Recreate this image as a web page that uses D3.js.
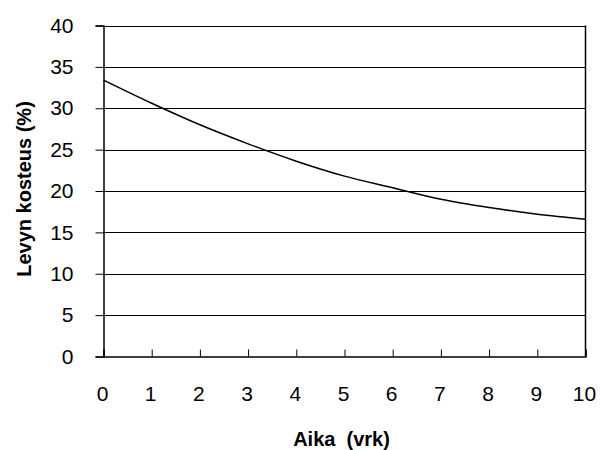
<!DOCTYPE html>
<html>
<head>
<meta charset="utf-8">
<script src="https://cdn.jsdelivr.net/npm/d3@7"></script>
<style>
  html, body { margin: 0; padding: 0; background: #fff; }
  text { font-family: "Liberation Sans", Arial, sans-serif; fill: #000; }
</style>
</head>
<body>
<svg id="chart" width="602" height="450"></svg>
<script>
const days = [0, 1, 2, 3, 4, 5, 6, 7, 8, 9, 10];
const moisture = [33.4, 30.6, 28.0, 25.7, 23.6, 21.8, 20.4, 19.0, 18.0, 17.2, 16.6];
const xTicks = [0, 1, 2, 3, 4, 5, 6, 7, 8, 9, 10];
const yTicks = [0, 5, 10, 15, 20, 25, 30, 35, 40];
const xTitle = "Aika  (vrk)";
const yTitle = "Levyn kosteus (%)";

const svg = d3.select("#chart");
const mLeft = 103.5, mRight = 585.5, mTop = 25.5, mBottom = 356.5;

const x = d3.scaleLinear().domain([0, 10]).range([mLeft, mRight]);
const y = d3.scaleLinear().domain([0, 40]).range([mBottom, mTop]);

// gridlines
svg.append("g").selectAll("line").data(yTicks.filter(d => d > 0)).join("line")
  .attr("x1", mLeft).attr("x2", mRight)
  .attr("y1", d => Math.round(y(d)) + 0.5).attr("y2", d => Math.round(y(d)) + 0.5)
  .attr("stroke", "#000").attr("stroke-width", 1);

// right border
svg.append("line").attr("x1", mRight).attr("x2", mRight).attr("y1", mTop).attr("y2", mBottom)
  .attr("stroke", "#000").attr("stroke-width", 1.5);

// y axis
const yAxis = d3.axisLeft(y).tickValues(yTicks).tickSize(8).tickPadding(22).tickFormat(d3.format("d"));
const gy = svg.append("g").attr("transform", `translate(${mLeft},0)`).call(yAxis);
gy.select(".domain").attr("stroke", "#000").attr("stroke-width", 1.5);
gy.selectAll(".tick line").attr("stroke", "#000");
gy.selectAll(".tick text").attr("font-size", 21).attr("font-family", "Liberation Sans, Arial, sans-serif").attr("fill", "#000");

// x axis (ticks inside)
const xAxis = d3.axisBottom(x).tickValues(xTicks).tickSize(-7).tickPadding(0).tickFormat(d3.format("d"));
const gx = svg.append("g").attr("transform", `translate(0,${mBottom})`).call(xAxis);
gx.select(".domain").attr("stroke", "#000").attr("stroke-width", 1.5);
gx.selectAll(".tick line").attr("stroke", "#000");
gx.selectAll(".tick text").attr("font-size", 21).attr("font-family", "Liberation Sans, Arial, sans-serif")
  .attr("fill", "#000").attr("dy", null).attr("y", 44).attr("dx", -1.5);

// line
const line = d3.line().x((d, i) => x(days[i])).y(d => y(d)).curve(d3.curveMonotoneX);
svg.append("path").datum(moisture).attr("d", line)
  .attr("fill", "none").attr("stroke", "#000").attr("stroke-width", 1.5);

// titles
svg.append("text").attr("x", (mLeft + mRight) / 2 - 3).attr("y", 446)
  .attr("text-anchor", "middle").attr("font-size", 20).attr("font-weight", "bold")
  .style("white-space", "pre").text(xTitle);
svg.append("text").attr("transform", `translate(31,${(mTop + mBottom) / 2 - 2}) rotate(-90)`)
  .attr("text-anchor", "middle").attr("font-size", 20).attr("font-weight", "bold").text(yTitle);
</script>
</body>
</html>
